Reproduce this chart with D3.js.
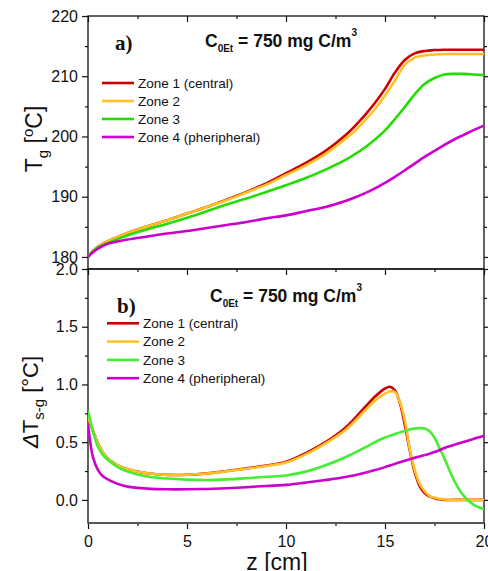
<!DOCTYPE html>
<html>
<head>
<meta charset="utf-8">
<script src="https://cdn.jsdelivr.net/npm/d3@7"></script>
<style>
  body { margin: 0; background: #fff; }
  svg { font-family: "Liberation Sans", Arial, sans-serif; }
  .tick text { font-size: 16px; fill: #111; }
</style>
</head>
<body>
<div id="chart"></div>
<script>
// top panel: gas temperature
var zTop = [0, 0.25, 0.5, 1, 2, 3, 4, 5, 6, 7, 8, 9, 10, 11, 12, 13, 13.5, 14, 14.5, 15, 15.5, 16, 16.5, 17, 17.5, 18, 18.5, 19, 19.5, 20];
var tg1 = [180, 181.0, 181.7, 182.6, 184.0, 185.1, 186.1, 187.2, 188.3, 189.5, 190.8, 192.2, 193.9, 195.6, 197.6, 200.2, 201.8, 203.6, 205.6, 207.9, 210.6, 212.7, 213.8, 214.2, 214.35, 214.4, 214.4, 214.4, 214.4, 214.4];
var tg2 = [180, 181.0, 181.7, 182.6, 184.0, 185.1, 186.1, 187.2, 188.3, 189.4, 190.7, 192.0, 193.6, 195.2, 197.1, 199.6, 201.0, 202.7, 204.6, 206.8, 209.3, 211.9, 213.1, 213.45, 213.6, 213.7, 213.7, 213.7, 213.7, 213.7];
var tg3 = [180, 180.9, 181.6, 182.3, 183.6, 184.6, 185.5, 186.5, 187.6, 188.7, 189.7, 190.8, 191.9, 193.1, 194.5, 196.1, 197.1, 198.2, 199.5, 201.0, 202.9, 204.9, 207.0, 208.7, 209.7, 210.3, 210.4, 210.4, 210.3, 210.2];
var tg4 = [180, 180.8, 181.4, 182.2, 182.9, 183.4, 183.9, 184.3, 184.8, 185.3, 185.8, 186.4, 186.9, 187.6, 188.3, 189.3, 189.9, 190.6, 191.4, 192.3, 193.3, 194.4, 195.5, 196.6, 197.6, 198.6, 199.5, 200.3, 201.1, 201.8];

// bottom panel: solid-gas temperature difference
var zBot = [0, 0.1, 0.25, 0.5, 0.75, 1, 1.5, 2, 3, 4, 5, 6, 7, 8, 9, 10, 11, 12, 13, 14, 14.5, 15, 15.25, 15.5, 15.75, 16, 16.25, 16.5, 16.75, 17, 17.25, 17.5, 17.75, 18, 18.5, 19, 19.5, 20];
var dt1 = [0.73, 0.67, 0.6, 0.49, 0.41, 0.36, 0.30, 0.266, 0.231, 0.217, 0.218, 0.23, 0.25, 0.273, 0.298, 0.33, 0.405, 0.5, 0.625, 0.805, 0.895, 0.965, 0.98, 0.95, 0.84, 0.65, 0.43, 0.24, 0.12, 0.06, 0.03, 0.015, 0.005, 0, 0, 0, 0, 0];
var dt2 = [0.73, 0.67, 0.6, 0.49, 0.41, 0.36, 0.30, 0.266, 0.231, 0.217, 0.218, 0.229, 0.248, 0.27, 0.294, 0.325, 0.395, 0.49, 0.605, 0.775, 0.86, 0.92, 0.94, 0.935, 0.85, 0.69, 0.44, 0.26, 0.14, 0.075, 0.035, 0.02, 0.01, 0.005, 0, 0, 0, 0];
var dt3 = [0.77, 0.7, 0.59, 0.46, 0.39, 0.347, 0.283, 0.245, 0.202, 0.185, 0.176, 0.173, 0.178, 0.188, 0.2, 0.212, 0.245, 0.3, 0.37, 0.455, 0.5, 0.54, 0.555, 0.57, 0.585, 0.597, 0.61, 0.618, 0.622, 0.618, 0.595, 0.54, 0.45, 0.36, 0.165, 0.03, -0.045, -0.08];
var dt4 = [0.66, 0.52, 0.37, 0.26, 0.205, 0.178, 0.139, 0.115, 0.098, 0.092, 0.092, 0.095, 0.101, 0.11, 0.121, 0.13, 0.15, 0.172, 0.198, 0.236, 0.258, 0.284, 0.298, 0.312, 0.326, 0.34, 0.353, 0.365, 0.376, 0.388, 0.4, 0.415, 0.43, 0.45, 0.477, 0.503, 0.53, 0.555];

var zoneNames = ["Zone 1 (central)", "Zone 2", "Zone 3", "Zone 4 (pheripheral)"];
var topColors = ["#cc0000", "#ffc125", "#22dd00", "#cc00cc"];
var botColors = ["#cc0000", "#ffc125", "#44ee33", "#cc00cc"];
var xTicks = [0, 5, 10, 15, 20];

var W = 488, H = 571;
var left = 88, right = 484, top1 = 16, mid = 269, bot = 523;

var svg = d3.select("#chart").append("svg")
    .attr("width", W)
    .attr("height", H);

var x = d3.scaleLinear().domain([0, 20]).range([left, right]);
var y1 = d3.scaleLinear().domain([178, 220]).range([mid, top1]);
var y2 = d3.scaleLinear().domain([-0.2, 2.0]).range([bot, mid]);

svg.append("clipPath").attr("id", "clip1")
  .append("rect").attr("x", left).attr("y", top1).attr("width", right - left).attr("height", mid - top1);
svg.append("clipPath").attr("id", "clip2")
  .append("rect").attr("x", left).attr("y", mid).attr("width", right - left).attr("height", bot - mid);

var minorX = d3.range(2.5, 20, 5);

function tickAxis(axis, tr, vals, size, labels) {
  var g = svg.append("g").attr("transform", tr)
    .call(axis.tickValues(vals).tickSize(size).tickSizeOuter(0).tickPadding(4)
      .tickFormat(labels ? labels : ""));
  g.select(".domain").remove();
  g.selectAll(".tick line").attr("stroke", "#111").attr("stroke-width", 1.2);
  return g;
}

// ---- top panel axes
tickAxis(d3.axisLeft(y1), "translate(" + left + ",0)", [180, 190, 200, 210, 220], 6, d3.format("d"));
tickAxis(d3.axisLeft(y1), "translate(" + left + ",0)", [185, 195, 205, 215], 3);
tickAxis(d3.axisLeft(y1), "translate(" + right + ",0)", [180, 190, 200, 210, 220], -6);
tickAxis(d3.axisLeft(y1), "translate(" + right + ",0)", [185, 195, 205, 215], -3);
tickAxis(d3.axisBottom(x), "translate(0," + top1 + ")", xTicks, 6);
tickAxis(d3.axisBottom(x), "translate(0," + top1 + ")", minorX, 3);
tickAxis(d3.axisBottom(x), "translate(0," + mid + ")", xTicks, 6);
tickAxis(d3.axisBottom(x), "translate(0," + mid + ")", minorX, 3);

// ---- bottom panel axes
tickAxis(d3.axisLeft(y2), "translate(" + left + ",0)", [0, 0.5, 1, 1.5, 2], 6, d3.format(".1f"));
tickAxis(d3.axisLeft(y2), "translate(" + left + ",0)", [0.25, 0.75, 1.25, 1.75], 3);
tickAxis(d3.axisRight(y2), "translate(" + right + ",0)", [0, 0.5, 1, 1.5, 2], 5);
tickAxis(d3.axisRight(y2), "translate(" + right + ",0)", [0.25, 0.75, 1.25, 1.75], 3);
tickAxis(d3.axisBottom(x), "translate(0," + bot + ")", xTicks, 6, d3.format("d"))
  .selectAll(".tick text").attr("dy", "0.9em");
tickAxis(d3.axisBottom(x), "translate(0," + bot + ")", minorX, 3);

// frames
svg.append("rect").attr("x", left).attr("y", top1).attr("width", right - left).attr("height", mid - top1)
  .attr("fill", "none").attr("stroke", "#111").attr("stroke-width", 1.3);
svg.append("rect").attr("x", left).attr("y", mid).attr("width", right - left).attr("height", bot - mid)
  .attr("fill", "none").attr("stroke", "#111").attr("stroke-width", 1.3);
svg.append("line").attr("x1", left).attr("x2", right).attr("y1", bot).attr("y2", bot)
  .attr("stroke", "#555").attr("stroke-width", 1.6);

// ---- curves
var line1 = d3.line().x(function(d){ return x(d[0]); }).y(function(d){ return y1(d[1]); }).curve(d3.curveCatmullRom.alpha(0.5));
var line2 = d3.line().x(function(d){ return x(d[0]); }).y(function(d){ return y2(d[1]); }).curve(d3.curveCatmullRom.alpha(0.5));

var topSeries = [tg1, tg2, tg3, tg4];
var botSeries = [dt1, dt2, dt3, dt4];

var gTop = svg.append("g").attr("clip-path", "url(#clip1)");
topSeries.forEach(function(s, i){
  gTop.append("path")
    .datum(d3.zip(zTop, s))
    .attr("d", line1)
    .attr("fill", "none")
    .attr("stroke", topColors[i])
    .attr("stroke-width", 2.6);
});

var gBot = svg.append("g").attr("clip-path", "url(#clip2)");
botSeries.forEach(function(s, i){
  gBot.append("path")
    .datum(d3.zip(zBot, s))
    .attr("d", line2)
    .attr("fill", "none")
    .attr("stroke", botColors[i])
    .attr("stroke-width", 2.6);
});

// ---- legends
function legend(x0, y0, dy, colors) {
  zoneNames.forEach(function(name, i){
    var yy = y0 + i * dy;
    svg.append("line").attr("x1", x0).attr("x2", x0 + 32).attr("y1", yy).attr("y2", yy)
      .attr("stroke", colors[i]).attr("stroke-width", 2.6);
    svg.append("text").attr("x", x0 + 36).attr("y", yy).attr("dy", "0.36em")
      .style("font-size", "13.5px").attr("fill", "#111").text(name);
  });
}
legend(102, 83, 18, topColors);
legend(107, 323.3, 18.3, botColors);

// ---- panel titles
function panelTitle(label, lx, ly, cx, cy) {
  svg.append("text").attr("x", lx).attr("y", ly)
    .style("font-family", "'Liberation Serif', 'Times New Roman', serif")
    .style("font-weight", "bold").style("font-size", "21px").attr("fill", "#111").text(label);
  var t = svg.append("text").attr("x", cx).attr("y", cy)
    .style("font-weight", "bold").style("font-size", "17.5px").attr("fill", "#111");
  t.append("tspan").text("C");
  t.append("tspan").attr("dy", 5).style("font-size", "10px").text("0Et");
  t.append("tspan").attr("dy", -5).text(" = 750 mg C/m");
  t.append("tspan").attr("dy", -11).style("font-size", "10px").text("3");
}
panelTitle("a)", 115, 50, 205, 47);
panelTitle("b)", 117, 313, 210, 302);

// ---- axis titles
var yt1 = svg.append("text").attr("transform", "translate(42,139) rotate(-90)")
  .attr("text-anchor", "middle").style("font-size", "23px").attr("fill", "#111");
yt1.append("tspan").text("T");
yt1.append("tspan").attr("dy", 6).style("font-size", "15px").text("g");
yt1.append("tspan").attr("dy", -6).text(" [");
yt1.append("tspan").attr("dy", -9).style("font-size", "15px").text("o");
yt1.append("tspan").attr("dy", 9).text("C]");

var yt2 = svg.append("text").attr("transform", "translate(38,402) rotate(-90)")
  .attr("text-anchor", "middle").style("font-size", "22px").attr("fill", "#111");
yt2.append("tspan").style("font-style", "italic").text("\u0394");
yt2.append("tspan").text("T");
yt2.append("tspan").attr("dy", 6).style("font-size", "15px").text("s-g");
yt2.append("tspan").attr("dy", -6).text(" [\u00b0C]");

svg.append("text").attr("x", 277).attr("y", 570).attr("text-anchor", "middle")
  .style("font-size", "23px").attr("fill", "#111").text("z [cm]");
</script>
</body>
</html>
